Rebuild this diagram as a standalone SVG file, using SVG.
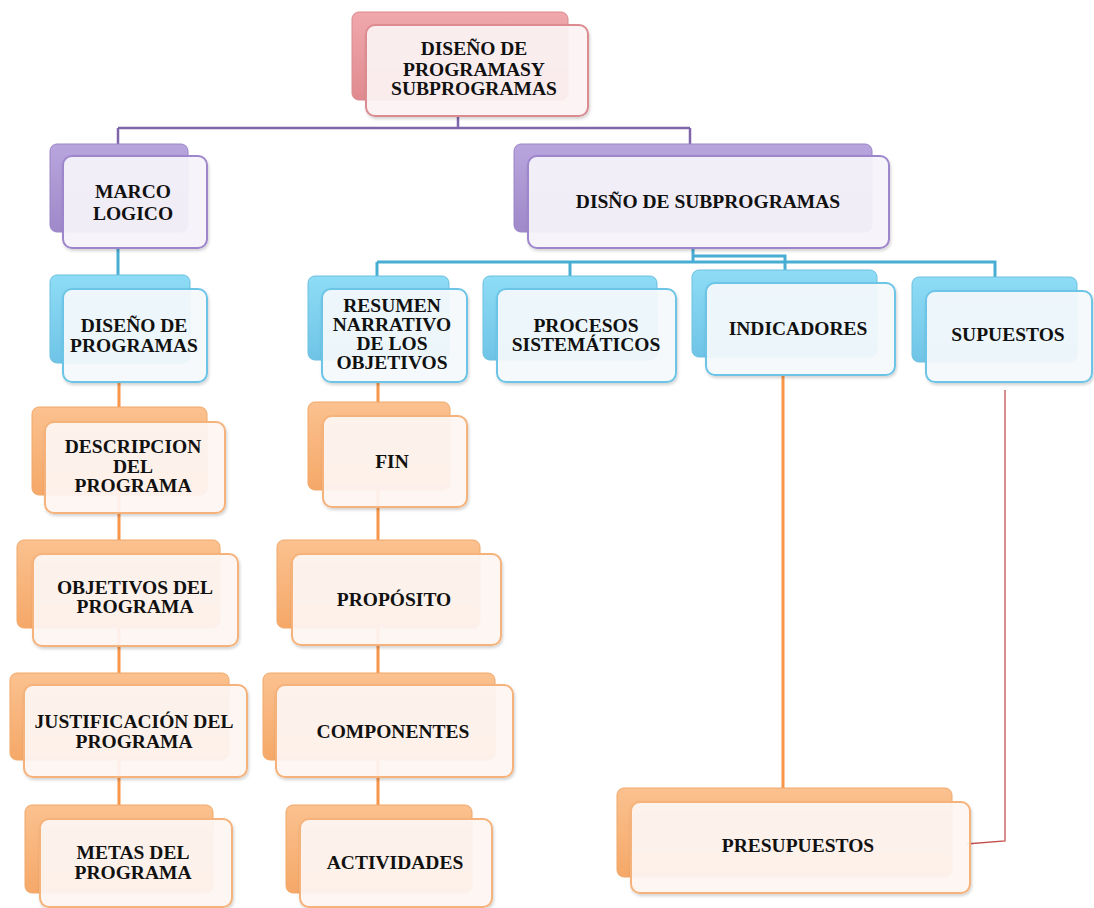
<svg xmlns="http://www.w3.org/2000/svg" width="1094" height="908" viewBox="0 0 1094 908">
<defs>
<linearGradient id="gRed" x1="0" y1="0" x2="0" y2="1"><stop offset="0" stop-color="#f0a8ac"/><stop offset="1" stop-color="#e08a8e"/></linearGradient>
<linearGradient id="gPur" x1="0" y1="0" x2="0" y2="1"><stop offset="0" stop-color="#b9a5de"/><stop offset="1" stop-color="#9f89c9"/></linearGradient>
<linearGradient id="gBlu" x1="0" y1="0" x2="0" y2="1"><stop offset="0" stop-color="#8edcf6"/><stop offset="1" stop-color="#6fc4e6"/></linearGradient>
<linearGradient id="gOra" x1="0" y1="0" x2="0" y2="1"><stop offset="0" stop-color="#fbc18f"/><stop offset="1" stop-color="#f5a868"/></linearGradient>
<linearGradient id="bev" x1="0" y1="0" x2="1" y2="0"><stop offset="0" stop-color="#000" stop-opacity="0.16"/><stop offset="0.08" stop-color="#000" stop-opacity="0"/></linearGradient>
<filter id="sh" x="-10%" y="-10%" width="130%" height="140%"><feDropShadow dx="1" dy="2" stdDeviation="1.5" flood-color="#000" flood-opacity="0.18"/></filter>
<style>
.t{font-family:"Liberation Serif","Times New Roman",serif;font-weight:bold;font-size:19.5px;fill:#111;text-anchor:middle}
.bR{fill:url(#gRed);stroke:#d98a8e;stroke-width:1}
.fR{fill:#fdf3f4;fill-opacity:0.93;stroke:#dc8c90;stroke-width:2}
.bP{fill:url(#gPur);stroke:#9a84c4;stroke-width:1}
.fP{fill:#f7f4fb;fill-opacity:0.93;stroke:#9e86cc;stroke-width:2}
.bB{fill:url(#gBlu);stroke:#6cc0e0;stroke-width:1}
.fB{fill:#f5fafd;fill-opacity:0.93;stroke:#6cc4e6;stroke-width:2}
.bO{fill:url(#gOra);stroke:#f0a868;stroke-width:1}
.fO{fill:#fff6f3;fill-opacity:0.93;stroke:#f5b27a;stroke-width:2}
.cP{stroke:#7f66ab;stroke-width:2.5;fill:none}
.cB{stroke:#48add3;stroke-width:3;fill:none}
.cO{stroke:#f7954a;stroke-width:3;fill:none}
.cR{stroke:#c0504d;stroke-width:1.3;fill:none}
</style>
</defs>
<rect width="1094" height="908" fill="#ffffff"/>
<g id="connectors">
<path class="cP" d="M458 115 V128 M118 128 H690 M118 128 V145 M690 128 V145"/>
<path class="cB" d="M118 248 V276 M693 248 V262 M377 262 H995 V277 M377 262 V276 M570 262 V276 M693 256 H785 V270"/>
<path class="cO" d="M119 382 V805 M378 382 V805 M783 375 V788"/>
<path class="cR" d="M1005 390 V841 L966 844"/>
</g>
<g id="n_top">
<rect class="bR" x="352" y="12" width="216" height="88" rx="7"/>
<rect class="fR" x="366" y="25" width="222" height="91" rx="9" filter="url(#sh)"/>
<text class="t" x="474" y="55">DISEÑO DE</text>
<text class="t" x="474" y="76">PROGRAMASY</text>
<text class="t" x="474" y="95">SUBPROGRAMAS</text>
</g>
<g id="n_marco">
<rect class="bP" x="50" y="144" width="138" height="88" rx="7"/>
<rect class="fP" x="63" y="156" width="144" height="92" rx="9" filter="url(#sh)"/>
<text class="t" x="133" y="198">MARCO</text>
<text class="t" x="133" y="220">LOGICO</text>
</g>
<g id="n_subprog">
<rect class="bP" x="514" y="144" width="358" height="88" rx="7"/>
<rect class="fP" x="528" y="156" width="361" height="92" rx="9" filter="url(#sh)"/>
<text class="t" x="708" y="208">DISÑO DE SUBPROGRAMAS</text>
</g>
<g id="n_disprog">
<rect class="bB" x="50" y="275" width="140" height="88" rx="7"/>
<rect class="fB" x="63" y="289" width="144" height="93" rx="9" filter="url(#sh)"/>
<text class="t" x="134" y="332">DISEÑO DE</text>
<text class="t" x="134" y="352">PROGRAMAS</text>
</g>
<g id="n_resumen">
<rect class="bB" x="308" y="276" width="141" height="84" rx="7"/>
<rect class="fB" x="322" y="289" width="145" height="93" rx="9" filter="url(#sh)"/>
<text class="t" x="392" y="312">RESUMEN</text>
<text class="t" x="392" y="331">NARRATIVO</text>
<text class="t" x="392" y="350">DE LOS</text>
<text class="t" x="392" y="369">OBJETIVOS</text>
</g>
<g id="n_procesos">
<rect class="bB" x="483" y="276" width="174" height="84" rx="7"/>
<rect class="fB" x="497" y="289" width="179" height="93" rx="9" filter="url(#sh)"/>
<text class="t" x="586" y="332">PROCESOS</text>
<text class="t" x="586" y="351">SISTEMÁTICOS</text>
</g>
<g id="n_indicadores">
<rect class="bB" x="692" y="270" width="185" height="87" rx="7"/>
<rect class="fB" x="706" y="283" width="189" height="92" rx="9" filter="url(#sh)"/>
<text class="t" x="798" y="335">INDICADORES</text>
</g>
<g id="n_supuestos">
<rect class="bB" x="912" y="277" width="165" height="85" rx="7"/>
<rect class="fB" x="926" y="291" width="166" height="91" rx="9" filter="url(#sh)"/>
<text class="t" x="1008" y="341">SUPUESTOS</text>
</g>
<g id="n_descripcion">
<rect class="bO" x="32" y="407" width="175" height="88" rx="7"/>
<rect class="fO" x="45" y="422" width="180" height="91" rx="9" filter="url(#sh)"/>
<text class="t" x="133" y="453">DESCRIPCION</text>
<text class="t" x="133" y="473">DEL</text>
<text class="t" x="133" y="492">PROGRAMA</text>
</g>
<g id="n_objetivos">
<rect class="bO" x="17" y="540" width="203" height="88" rx="7"/>
<rect class="fO" x="33" y="554" width="205" height="92" rx="9" filter="url(#sh)"/>
<text class="t" x="135" y="594">OBJETIVOS DEL</text>
<text class="t" x="135" y="613">PROGRAMA</text>
</g>
<g id="n_justificacion">
<rect class="bO" x="10" y="673" width="219" height="87" rx="7"/>
<rect class="fO" x="24" y="685" width="223" height="92" rx="9" filter="url(#sh)"/>
<text class="t" x="134" y="728">JUSTIFICACIÓN DEL</text>
<text class="t" x="134" y="748">PROGRAMA</text>
</g>
<g id="n_metas">
<rect class="bO" x="25" y="805" width="188" height="88" rx="7"/>
<rect class="fO" x="40" y="819" width="192" height="88" rx="9" filter="url(#sh)"/>
<text class="t" x="133" y="859">METAS DEL</text>
<text class="t" x="133" y="879">PROGRAMA</text>
</g>
<g id="n_fin">
<rect class="bO" x="308" y="402" width="142" height="88" rx="7"/>
<rect class="fO" x="323" y="416" width="144" height="91" rx="9" filter="url(#sh)"/>
<text class="t" x="392" y="468">FIN</text>
</g>
<g id="n_proposito">
<rect class="bO" x="277" y="540" width="203" height="88" rx="7"/>
<rect class="fO" x="292" y="554" width="209" height="91" rx="9" filter="url(#sh)"/>
<text class="t" x="394" y="606">PROPÓSITO</text>
</g>
<g id="n_componentes">
<rect class="bO" x="263" y="673" width="232" height="87" rx="7"/>
<rect class="fO" x="276" y="685" width="237" height="92" rx="9" filter="url(#sh)"/>
<text class="t" x="393" y="738">COMPONENTES</text>
</g>
<g id="n_actividades">
<rect class="bO" x="286" y="805" width="186" height="88" rx="7"/>
<rect class="fO" x="300" y="819" width="192" height="88" rx="9" filter="url(#sh)"/>
<text class="t" x="395" y="869">ACTIVIDADES</text>
</g>
<g id="n_presupuestos">
<rect class="bO" x="617" y="788" width="335" height="89" rx="7"/>
<rect class="fO" x="631" y="802" width="339" height="91" rx="9" filter="url(#sh)"/>
<text class="t" x="798" y="852">PRESUPUESTOS</text>
</g>
</svg>
